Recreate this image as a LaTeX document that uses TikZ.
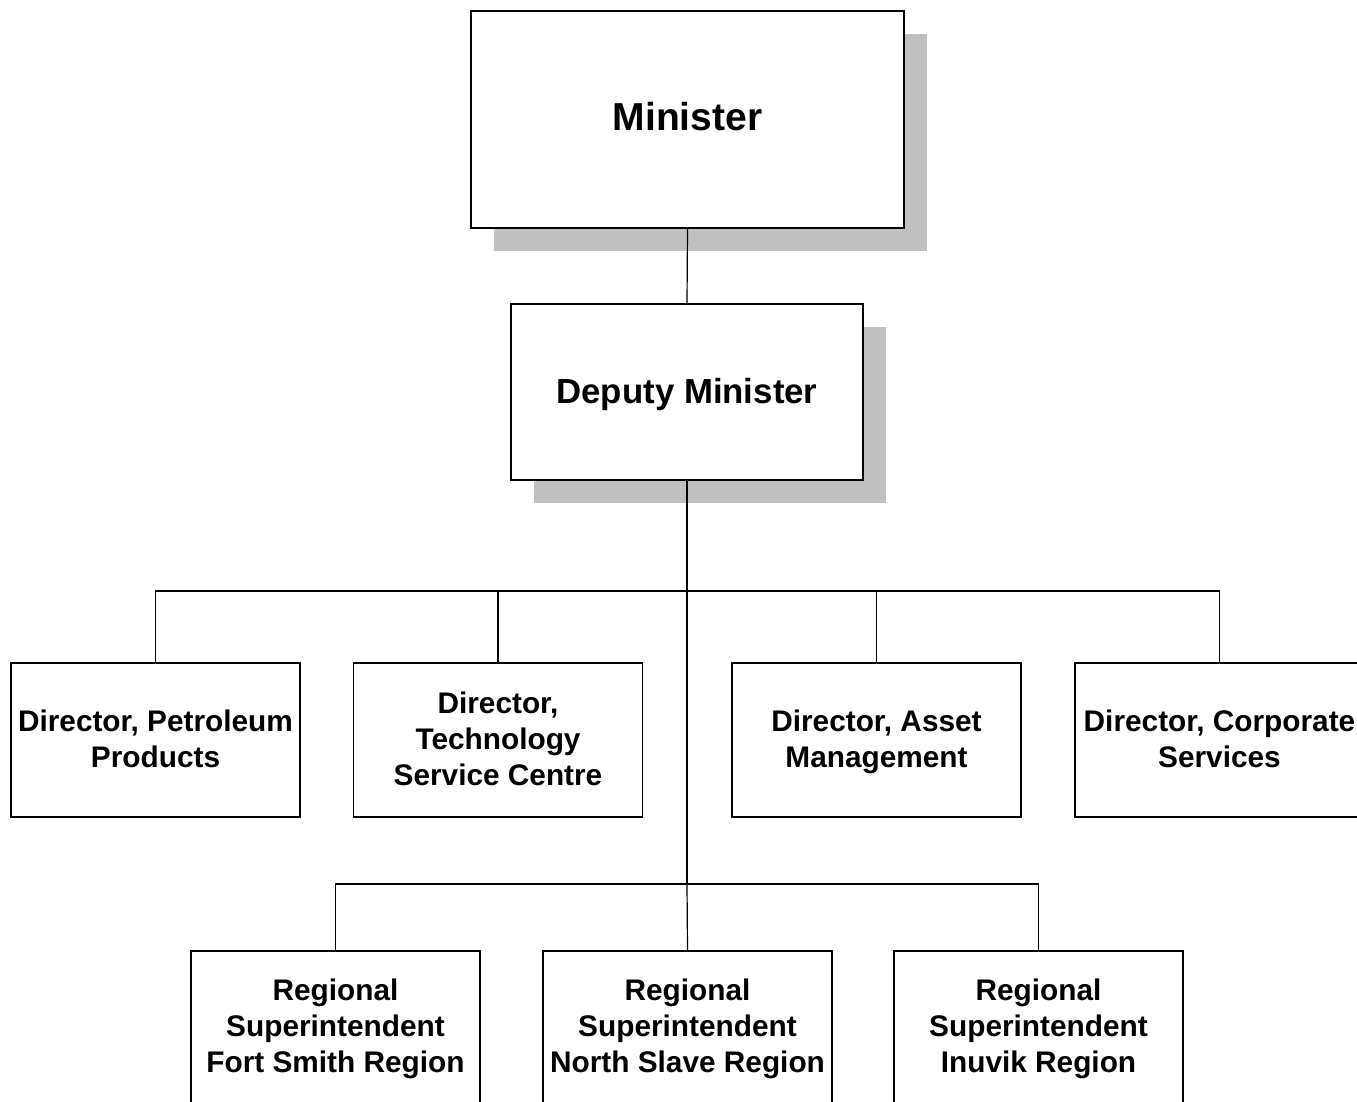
\documentclass[tikz,border=0pt]{standalone}
\usepackage{fontspec}
\setmainfont{Liberation Sans}
\usetikzlibrary{shadows}
\definecolor{shadowgray}{HTML}{C0C0C0}
% text block whose last baseline sits #1 from the node centre
\newcommand\btext[2]{\raisebox{#1}[0pt][0pt]{\begin{tabular}[b]{@{}c@{}}#2\end{tabular}}}
\tikzset{
  box/.style={draw=black, line width=1.6pt, fill=white, rectangle, inner sep=0pt,
    minimum width=289pt, minimum height=154pt,
    font=\fontsize{29.8}{36}\selectfont\bfseries},
  shadowbox/.style={box, drop shadow={shadow xshift=22.5pt, shadow yshift=-22.5pt, fill=shadowgray, opacity=1}},
  link/.style={draw=black, line width=1.2pt},
  trunk/.style={draw=black, line width=2.2pt}
}
\begin{document}
\begin{tikzpicture}[x=1pt, y=-1pt]
\useasboundingbox (0,0) rectangle (1357,1101);
\clip (0,0) rectangle (1357,1101);
\fill[white] (0,0) rectangle (1357,1101);
% top nodes
\node[shadowbox, minimum width=433pt, minimum height=217pt, font=\fontsize{39}{44}\selectfont\bfseries] (min) at (687.5,119.5) {\btext{-11.2pt}{Minister}};
\node[shadowbox, minimum width=352pt, minimum height=176pt, font=\fontsize{34.8}{40}\selectfont\bfseries] (dep) at (687,392) {\btext{-11.3pt}{Deputy Minister}};
% directors
\node[box] (d1) at (155.5,740) {\btext{-27.7pt}{Director, Petroleum\\Products}};
\node[box] (d2) at (498,740) {\btext{-45.7pt}{Director,\\Technology\\Service Centre}};
\node[box] (d3) at (876.5,740) {\btext{-27.7pt}{Director, Asset\\Management}};
\node[box] (d4) at (1219.5,740) {\btext{-27.7pt}{Director, Corporate\\Services}};
% regional
\node[box] (r1) at (335.5,1028) {\btext{-44.5pt}{Regional\\Superintendent\\Fort Smith Region}};
\node[box] (r2) at (687.5,1028) {\btext{-44.5pt}{Regional\\Superintendent\\North Slave Region}};
\node[box] (r3) at (1038.5,1028) {\btext{-44.5pt}{Regional\\Superintendent\\Inuvik Region}};
% junctions
\coordinate (j1) at (687,591);
\coordinate (j2) at (687,884);
% connectors
\draw[link] (min.south) -- (dep.north);
\draw[trunk] (dep.south) -- (j1);
\draw[link] (j1) -- (j2);
\draw[link] (j2) -- (r2.north);
\draw[link] (d1.north) |- (j1);
\draw[link] (d2.north) |- (j1);
\draw[link] (d3.north) |- (j1);
\draw[link] (d4.north) |- (j1);
\draw[link] (r1.north) |- (j2);
\draw[link] (r3.north) |- (j2);
\end{tikzpicture}
\end{document}
